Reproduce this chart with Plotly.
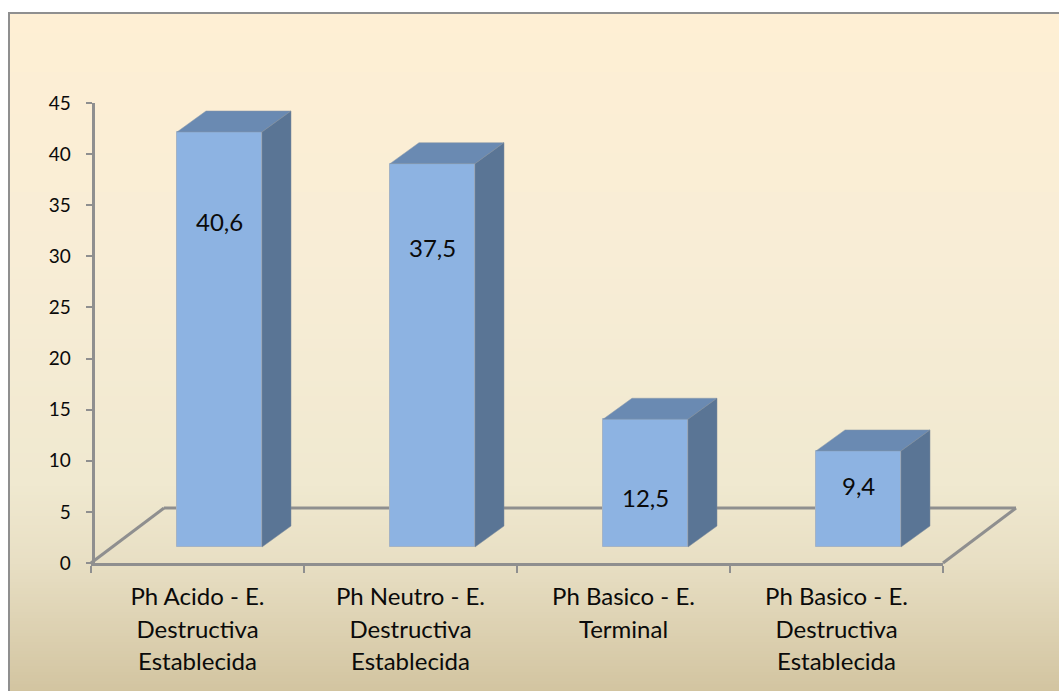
import plotly.graph_objects as go

# Chart data
categories = [
    "Ph Acido - E.<br>Destructiva<br>Establecida",
    "Ph Neutro - E.<br>Destructiva<br>Establecida",
    "Ph Basico - E.<br>Terminal",
    "Ph Basico - E.<br>Destructiva<br>Establecida",
]
values = [40.6, 37.5, 12.5, 9.4]
value_labels = ["40,6", "37,5", "12,5", "9,4"]
label_heights = [33.4, 30.9, 6.4, 7.6]
y_ticks = [0, 5, 10, 15, 20, 25, 30, 35, 40, 45]

WIDTH, HEIGHT = 1059, 691
AX_LEFT, AX_RIGHT, AX_BOTTOM, AX_TOP = 91, 943, 563, 103
PX_PER_CAT = (AX_RIGHT - AX_LEFT) / len(values)
PX_PER_UNIT = (AX_BOTTOM - AX_TOP) / 45

# Oblique depth of the pseudo-3D bars and floor
BAR_WIDTH = 85 / PX_PER_CAT
BAR_SHIFT = 22 / PX_PER_CAT
BAR_BASE = 16 / PX_PER_UNIT
DEPTH_X = 29 / PX_PER_CAT
DEPTH_Y = 21 / PX_PER_UNIT
FLOOR_DX, FLOOR_DY = 73, 55

AXIS_GREY = "#8f8f8f"
FRONT, TOP, SIDE = "#8db3e2", "#6a8ab2", "#5a7595"
FONT = "Lato"
INK = "#0a0a0a"

# Vertical parchment gradient stops: (page y, r, g, b)
gradient = [(12, 254, 239, 212), (250, 248, 237, 214), (480, 240, 233, 208),
            (560, 232, 223, 196), (691, 210, 196, 160)]


def page_x(px):
    return px / WIDTH


def page_y(px):
    return 1 - px / HEIGHT


def gradient_color(y):
    for (y0, *c0), (y1, *c1) in zip(gradient, gradient[1:]):
        if y <= y1:
            t = (y - y0) / (y1 - y0)
            return "rgb(%d,%d,%d)" % tuple(round(a + (b - a) * t) for a, b in zip(c0, c1))
    return "rgb(%d,%d,%d)" % tuple(gradient[-1][1:])


shapes = []
# Background: overlapping strips, each running down to the page bottom
for y in range(12, HEIGHT, 3):
    shapes.append(dict(type="rect", xref="paper", yref="paper", layer="below",
                       x0=page_x(8), x1=1.2, y0=page_y(y), y1=-0.2,
                       fillcolor=gradient_color(y), line_width=0))
# Frame around the chart area
shapes.append(dict(type="rect", xref="paper", yref="paper", layer="below",
                   x0=page_x(9), x1=1.2, y0=page_y(13), y1=-0.2,
                   fillcolor="rgba(0,0,0,0)", line=dict(color=AXIS_GREY, width=2)))
# Floor outline behind the bars
floor = [(AX_LEFT, AX_BOTTOM), (AX_LEFT + FLOOR_DX, AX_BOTTOM - FLOOR_DY),
         (AX_RIGHT + FLOOR_DX, AX_BOTTOM - FLOOR_DY), (AX_RIGHT, AX_BOTTOM)]
for (x0, y0), (x1, y1) in zip(floor, floor[1:]):
    shapes.append(dict(type="line", xref="paper", yref="paper", layer="below",
                       x0=page_x(x0), x1=page_x(x1), y0=page_y(y0), y1=page_y(y1),
                       line=dict(color=AXIS_GREY, width=3)))

fig = go.Figure()

# Front faces
fig.add_trace(go.Bar(
    x=categories, y=values, base=BAR_BASE, width=BAR_WIDTH,
    offset=BAR_SHIFT - BAR_WIDTH / 2,
    marker=dict(color=FRONT, line=dict(color="#a3b3c6", width=1)),
    hoverinfo="skip", showlegend=False,
))

# Top and side faces, projected from each bar's value on a numeric overlay axis
for i, v in enumerate(values):
    left = i + BAR_SHIFT - BAR_WIDTH / 2
    right = left + BAR_WIDTH
    top = BAR_BASE + v
    fig.add_trace(go.Scatter(
        x=[left, right, right + DEPTH_X, left + DEPTH_X, left],
        y=[top, top, top + DEPTH_Y, top + DEPTH_Y, top],
        xaxis="x2", mode="lines", fill="toself", fillcolor=TOP,
        line=dict(color="#8a98a8", width=0.5), hoverinfo="skip", showlegend=False,
    ))
    fig.add_trace(go.Scatter(
        x=[right, right + DEPTH_X, right + DEPTH_X, right, right],
        y=[BAR_BASE, BAR_BASE + DEPTH_Y, top + DEPTH_Y, top, BAR_BASE],
        xaxis="x2", mode="lines", fill="toself", fillcolor=SIDE,
        line=dict(color="#7c8a9a", width=0.5), hoverinfo="skip", showlegend=False,
    ))

# Value labels inside the bars
annotations = [
    dict(x=i + BAR_SHIFT, y=h, text=t, xref="x2", yref="y", showarrow=False,
         font=dict(family=FONT, size=24, color=INK))
    for i, (t, h) in enumerate(zip(value_labels, label_heights))
]

# Category labels keep a wide line pitch: the tick font sets it, the span sets the glyph size
tick_text = ["<br>".join('<span style="font-size:24px">%s</span>' % part for part in c.split("<br>"))
             for c in categories]

fig.update_layout(
    template="none",
    width=WIDTH, height=HEIGHT,
    margin=dict(l=0, r=0, t=0, b=0),
    paper_bgcolor="white", plot_bgcolor="rgba(0,0,0,0)",
    shapes=shapes, annotations=annotations, showlegend=False, bargap=0,
    xaxis=dict(
        type="category", categoryorder="array", categoryarray=categories,
        domain=[page_x(AX_LEFT), page_x(AX_RIGHT)], range=[-0.5, 3.5],
        tickmode="array", tickvals=categories, ticktext=tick_text,
        tickson="boundaries", ticks="outside", ticklen=7, tickwidth=2, tickcolor=AXIS_GREY,
        showline=True, linecolor=AXIS_GREY, linewidth=3, showgrid=False, zeroline=False,
        tickfont=dict(family=FONT, size=25, color=INK), tickangle=0,
        ticklabelstandoff=9, automargin=False,
    ),
    xaxis2=dict(
        overlaying="x", domain=[page_x(AX_LEFT), page_x(AX_RIGHT)], range=[-0.5, 3.5],
        visible=False, automargin=False,
    ),
    yaxis=dict(
        domain=[page_y(AX_BOTTOM), page_y(AX_TOP)], range=[0, 45],
        anchor="free", position=page_x(AX_LEFT + 1.5),
        tickmode="array", tickvals=y_ticks,
        ticks="outside", ticklen=6, tickwidth=2, tickcolor=AXIS_GREY,
        showline=True, linecolor=AXIS_GREY, linewidth=3, showgrid=False, zeroline=False,
        tickfont=dict(family=FONT, size=19, color=INK),
        ticklabelstandoff=11, automargin=False,
    ),
)

fig.write_html("out.html", config={"displayModeBar": False})
